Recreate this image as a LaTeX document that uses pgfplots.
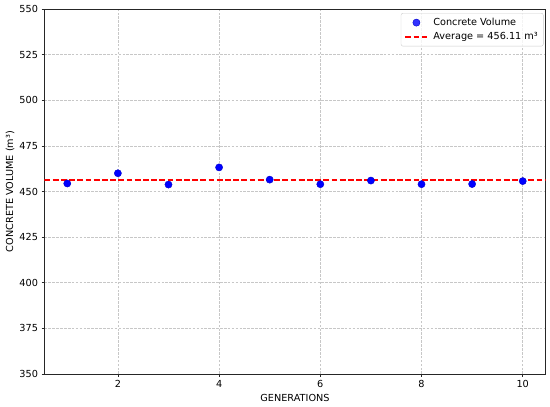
\documentclass[border=0pt]{standalone}
\usepackage{fontspec}
\setmainfont{DejaVu Sans}
\usepackage{pgfplots}
\pgfplotsset{compat=1.18}
\begin{document}
\fontsize{9.7bp}{11.5bp}\selectfont
\begin{tikzpicture}
\begin{axis}[
  name=ax,
  scale only axis,
  width=501bp, height=365bp,
  xmin=0.55, xmax=10.45,
  ymin=350, ymax=550,
  xtick={2,4,6,8,10},
  ytick={350,375,...,550},
  /pgf/number format/assume math mode=true,
  tick label style={font=\fontsize{9.7bp}{11.5bp}\selectfont},
  label style={font=\fontsize{9.7bp}{11.5bp}\selectfont},
  tick align=outside,
  major tick length=2.8bp,
  xtick pos=bottom, ytick pos=left,
  axis line style={line width=0.9bp, black!85},
  every tick/.style={black!85, line width=0.7bp},
  grid=major,
  major grid style={draw=black!22, dash pattern=on 2.6bp off 1.3bp, line width=0.6bp},
  xticklabel style={yshift=-0.3bp},
  yticklabel style={xshift=-0.3bp},
  xlabel={GENERATIONS},
  ylabel={CONCRETE VOLUME (m³)},
  every axis x label/.style={at={(rel axis cs:0.5,0)}, yshift=-24bp, anchor=center},
  every axis y label/.style={at={(rel axis cs:0,0.5)}, xshift=-34.5bp, rotate=90, anchor=center},
  legend image code/.code={\draw[mark repeat=2,mark phase=2,#1] plot coordinates {(0bp,0bp) (11bp,0bp) (22bp,0bp)};},
  legend style={
    at={(rel axis cs:0.996,0.989)}, anchor=north east,
    draw=black!20, rounded corners=2bp, fill=white, fill opacity=0.8, text opacity=1,
    font=\fontsize{9.7bp}{11.5bp}\selectfont,
    inner xsep=3.5bp, inner ysep=3bp,
    row sep=1.5bp,
    /tikz/every odd column/.append style={column sep=3bp},
  },
  legend cell align=left,
]
\addplot[only marks, mark=*, mark size=3.6bp, draw=blue!80!black, fill=blue, line width=0.4bp]
  coordinates {
  (1,454.4) (2,460.0) (3,453.8) (4,463.2) (5,456.5)
  (6,454.0) (7,456.0) (8,454.0) (9,454.1) (10,455.7)
  };
\addlegendentry{Concrete Volume}
\addplot[red, line width=1.8bp, dash pattern=on 5.8bp off 2.4bp]
  coordinates {(0.55,456.11) (10.45,456.11)};
\addlegendentry{Average = 456.11 m³}
\end{axis}
\pgfresetboundingbox
\useasboundingbox ([xshift=-44.5bp,yshift=-32bp]ax.south west) rectangle ([xshift=4.5bp,yshift=9bp]ax.north east);
\end{tikzpicture}
\end{document}
